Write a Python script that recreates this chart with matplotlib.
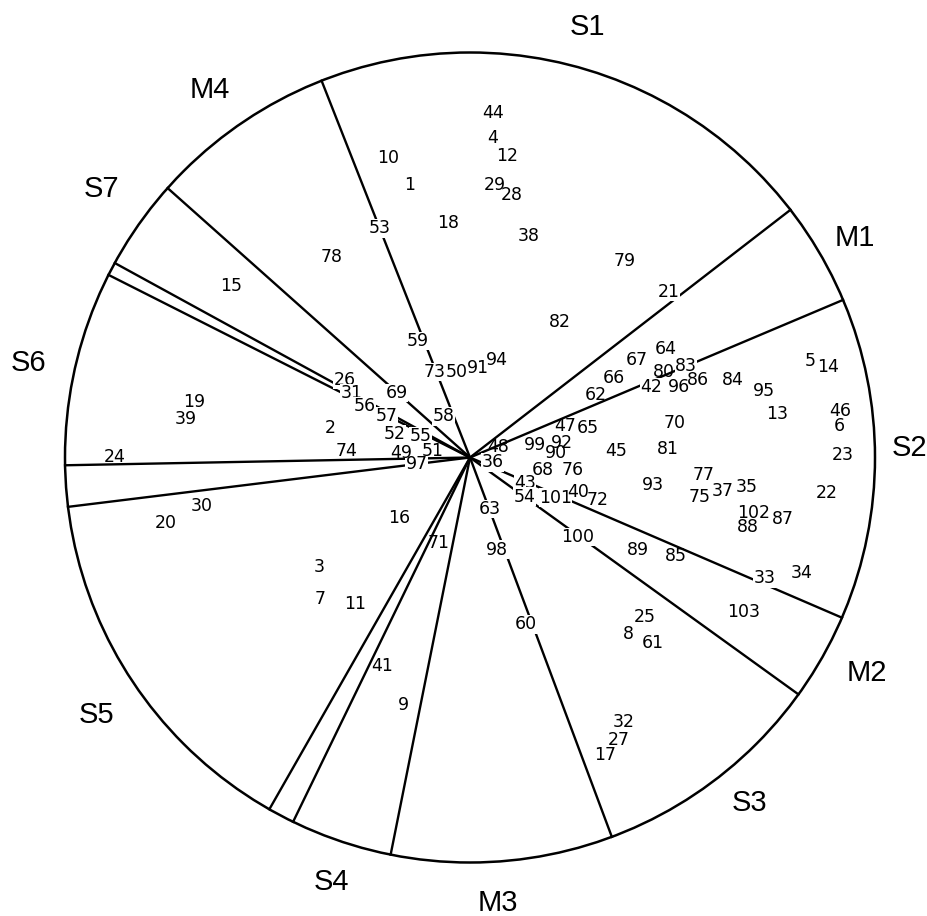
import numpy as np
import matplotlib.pyplot as plt
from matplotlib.patches import Circle

# sector names and where they sit (unit circle, centre at 0,0)
sector_names = ['S1', 'M1', 'S2', 'M2', 'S3', 'M3', 'S4', 'S5', 'S6', 'S7', 'M4']
name_x = [0.289, 0.951, 1.084, 0.980, 0.691, 0.069, -0.341, -0.921, -1.089, -0.909, -0.642]
name_y = [1.063, 0.542, 0.023, -0.532, -0.853, -1.100, -1.048, -0.636, 0.233, 0.663, 0.907]

# sector boundary rays, degrees anticlockwise from east
boundary_deg = [37.7, 22.9, 336.7, 324.2, 290.5, 258.7, 244.1, 240.3,
                187.0, 181.1, 153.2, 151.3, 138.3, 111.5]

# numbered items
point_ids = list(range(1, 104))
point_x = [-0.149, -0.345, -0.372, 0.055, 0.839, 0.911, -0.370, 0.392, -0.164, -0.203,
           -0.283, 0.092, 0.759, 0.883, -0.591, -0.174, 0.333, -0.055, -0.682, -0.752,
           0.491, 0.881, 0.921, -0.878, 0.432, -0.310, 0.367, 0.104, 0.062, -0.663,
           -0.293, 0.380, 0.727, 0.819, 0.682, 0.055, 0.625, 0.146, -0.702, 0.266,
           -0.216, 0.447, 0.136, 0.057, 0.360, 0.913, 0.236, 0.069, -0.169, -0.032,
           -0.092, -0.186, -0.223, 0.134, -0.122, -0.261, -0.206, -0.065, -0.129, 0.139,
           0.452, 0.310, 0.050, 0.484, 0.290, 0.355, 0.412, 0.181, -0.181, 0.506,
           -0.077, 0.315, -0.087, -0.305, 0.568, 0.253, 0.578, -0.342, 0.382, 0.479,
           0.489, 0.223, 0.533, 0.650, 0.509, 0.563, 0.772, 0.685, 0.414, 0.211,
           0.020, 0.228, 0.452, 0.067, 0.727, 0.516, -0.132, 0.067, 0.161, 0.266,
           0.211, 0.700, 0.675]
point_y = [0.672, 0.074, -0.270, 0.789, 0.238, 0.077, -0.350, -0.437, -0.610, 0.739,
           -0.362, 0.744, 0.107, 0.223, 0.424, -0.149, -0.734, 0.578, 0.136, -0.161,
           0.409, -0.087, 0.007, 0.002, -0.395, 0.191, -0.697, 0.648, 0.672, -0.119,
           0.159, -0.653, -0.298, -0.285, -0.072, -0.012, -0.082, 0.548, 0.094, -0.084,
           -0.516, 0.174, -0.062, 0.851, 0.015, 0.114, 0.077, 0.025, 0.012, 0.211,
           0.017, 0.057, 0.566, -0.097, 0.052, 0.127, 0.102, 0.102, 0.288, -0.412,
           -0.459, 0.154, -0.127, 0.268, 0.072, 0.196, 0.241, -0.030, 0.159, 0.084,
           -0.211, -0.104, 0.211, 0.017, -0.097, -0.030, -0.042, 0.494, 0.486, 0.211,
           0.022, 0.335, 0.226, 0.191, -0.243, 0.191, -0.151, -0.171, -0.228, 0.012,
           0.221, 0.037, -0.067, 0.241, 0.164, 0.174, -0.017, -0.228, 0.032, -0.196,
           -0.099, -0.136, -0.382]

# labels that sit on a boundary line (the line is broken there)
on_line = [53, 59, 73, 58, 69, 26, 31, 56, 57, 52, 55, 97, 63, 98, 60, 100,
           54, 43, 36, 101, 33, 21, 42, 96, 83]

fig = plt.figure(figsize=(9.28, 9.16), dpi=100)
ax = fig.add_axes([0, 0, 1, 1])

ax.add_patch(Circle((0, 0), 1.0, fill=False, color='black', lw=1.8, zorder=1))
for a in boundary_deg:
    t = np.deg2rad(a)
    ax.plot([0, np.cos(t)], [0, np.sin(t)], color='black', lw=1.7, zorder=1)

for pid, x, y in zip(point_ids, point_x, point_y):
    if pid in on_line:
        ax.text(x, y, str(pid), fontsize=12.5, ha='center', va='center',
                family='DejaVu Sans', zorder=2,
                bbox=dict(facecolor='white', edgecolor='none', pad=0.3))
    else:
        ax.text(x, y, str(pid), fontsize=12.5, ha='center', va='center',
                family='DejaVu Sans', zorder=3)

for name, x, y in zip(sector_names, name_x, name_y):
    ax.text(x, y, name, fontsize=21, ha='center', va='center',
            family='Liberation Sans')

ax.set_xlim(-470 / 405, 458 / 405)
ax.set_ylim(-458.5 / 405, 457.5 / 405)
ax.set_aspect('equal')
ax.axis('off')

plt.savefig('out.png', dpi=100)
